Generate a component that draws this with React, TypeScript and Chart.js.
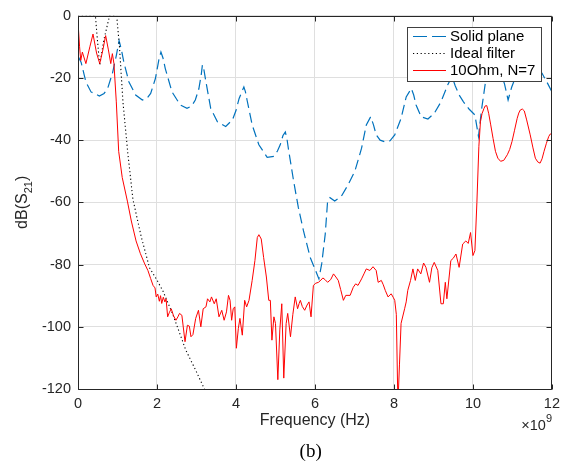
import React, { useEffect, useRef } from "react";
import { Chart, registerables } from "chart.js";

Chart.register(...registerables);

// ---------------- data ----------------
const xTickValues = [0, 2, 4, 6, 8, 10, 12];
const yTickValues = [-120, -100, -80, -60, -40, -20, 0];
const xAxisLabel = "Frequency (Hz)";
const xExponentBase = "×10";
const xExponent = "9";
const yLabelMain = "dB(S";
const yLabelSub = "21";
const yLabelEnd = ")";
const caption = "(b)";
const seriesLabels = ["Solid plane", "Ideal filter", "10Ohm, N=7"];

// frequency in units of 1e9 Hz
const solidPlaneFreq = [
  0.0, 0.08, 0.2, 0.33, 0.54, 0.66, 0.75, 0.87, 0.97, 1.04, 1.1, 1.16, 1.29, 1.46, 1.63, 1.75, 1.84, 1.96,
  2.05, 2.1, 2.15, 2.21, 2.38, 2.59, 2.76, 2.88, 2.97, 3.06, 3.12, 3.15, 3.19, 3.24, 3.36, 3.53, 3.74, 3.91,
  4.0, 4.08, 4.2, 4.24, 4.28, 4.41, 4.58, 4.79, 4.96, 5.05, 5.12, 5.19, 5.25, 5.29, 5.33, 5.46, 5.58, 5.71,
  5.88, 6.05, 6.1, 6.17, 6.26, 6.32, 6.38, 6.5, 6.67, 6.84, 7.01, 7.18, 7.3, 7.41, 7.48, 7.55, 7.65, 7.78,
  7.9, 8.02, 8.18, 8.31, 8.44, 8.5, 8.56, 8.69, 8.86, 9.02, 9.19, 9.36, 9.47, 9.55, 9.65, 9.76, 9.9, 10.05,
  10.14, 10.22, 10.33, 10.42, 10.5, 10.6, 10.7, 10.8, 10.89, 10.98, 11.1, 11.22, 11.32, 11.45, 11.6, 11.75,
  11.8, 11.9, 12.0,
];
const solidPlaneDb = [
  -13, -15, -21.3, -24.5, -25.8, -25, -23.4, -18.6, -12.8, -8, -11, -14.9, -21.3, -25.5, -27.1, -26.5, -25, -20.2,
  -14, -11.7, -13.5, -17, -24.5, -28.7, -29.8, -29, -27.1, -23.5, -19, -15.8, -17.5, -21.3, -29.8, -34.1, -35.6, -33.5,
  -30.5, -26.6, -22.9, -24.5, -27.1, -35.1, -41.5, -45.5, -45.2, -43.5, -41.5, -38.5, -37.4, -39.5, -43, -53.2, -61.7, -69.2,
  -77.7, -83, -84.6, -79.8, -70.2, -59.6, -58.5, -59.6, -58, -54.3, -50, -42.6, -35.1, -32.5, -35, -38.3, -40, -40.6,
  -40.2, -38.3, -33, -26.1, -23.4, -25.5, -28.7, -32.5, -33.2, -31.4, -27.7, -22.3, -19.5, -22.5, -25.5, -27.7, -30, -31.9,
  -38.8, -30, -20.2, -14, -11.5, -14, -18, -22, -27.1, -23, -19, -15, -12.5, -13, -16, -18.5,
  -19.7, -22, -24.5,
];

const idealFilterFreq = [
  0, 0.44, 0.5, 0.55, 0.65, 0.8, 0.98, 1.05, 1.14, 1.26, 1.39, 1.6, 1.81, 2.0, 2.15, 2.4, 2.73, 3.0, 3.2, 3.3,
];
const idealFilterDb = [
  0, 0, -9, -16, -8, 0, 0, -10, -28, -44, -59, -71, -81, -85, -88.5, -96, -107.5, -114.5, -120, -123,
];

const resistorFreq = [
  0.0, 0.04, 0.07, 0.11, 0.2, 0.3, 0.38, 0.47, 0.55, 0.63, 0.7, 0.77, 0.83, 0.87, 0.91, 0.97, 1.03, 1.12, 1.25,
  1.35, 1.47, 1.58, 1.69, 1.77, 1.84, 1.9, 1.95, 1.98, 2.02, 2.06, 2.09, 2.12, 2.16, 2.2, 2.23, 2.27, 2.31, 2.36,
  2.42, 2.48, 2.53, 2.57, 2.63, 2.71, 2.77, 2.82, 2.86, 2.91, 2.98, 3.05, 3.11, 3.17, 3.24, 3.28, 3.34, 3.38,
  3.45, 3.5, 3.57, 3.64, 3.7, 3.76, 3.81, 3.85, 3.89, 3.93, 3.97, 4.01, 4.06, 4.1, 4.16, 4.22, 4.27, 4.33,
  4.41, 4.48, 4.54, 4.58, 4.64, 4.7, 4.77, 4.83, 4.87, 4.91, 4.96, 5.0, 5.06, 5.11, 5.16, 5.21, 5.27, 5.31,
  5.38, 5.44, 5.5, 5.56, 5.6, 5.63, 5.68, 5.74, 5.8, 5.85, 5.9, 5.96, 6.02, 6.09, 6.15, 6.2, 6.26, 6.32, 6.4,
  6.47, 6.53, 6.59, 6.65, 6.72, 6.78, 6.89, 6.97, 7.03, 7.09, 7.18, 7.24, 7.3, 7.39, 7.47, 7.55, 7.6, 7.68,
  7.73, 7.78, 7.85, 7.93, 7.98, 8.02, 8.06, 8.1, 8.14, 8.18, 8.27, 8.31, 8.35, 8.42, 8.48, 8.54, 8.6, 8.68,
  8.75, 8.81, 8.9, 8.96, 9.02, 9.11, 9.19, 9.25, 9.3, 9.34, 9.44, 9.5, 9.57, 9.65, 9.74, 9.82, 9.88, 9.94,
  10.0, 10.05, 10.1, 10.15, 10.19, 10.23, 10.28, 10.31, 10.35, 10.4, 10.45, 10.51, 10.57, 10.63, 10.7, 10.78,
  10.87, 10.93, 10.99, 11.05, 11.12, 11.16, 11.2, 11.25, 11.3, 11.36, 11.45, 11.52, 11.58, 11.64, 11.7, 11.75,
  11.8, 11.86, 11.92, 11.96, 12.0,
];
const resistorDb = [
  -2, -10, -14.4, -11.7, -15.4, -10, -5.9, -12, -15.4, -11, -6.4, -11, -15.4, -12.2, -15.4, -27.7, -43.6, -52, -59.6,
  -66, -72.4, -76.5, -79.8, -81.9, -84.5, -86.7, -87.5, -90.4, -89.5, -91.8, -90, -92.5, -90.5, -92, -91, -96.8, -95.5, -94.2,
  -96.5, -97.9, -96.8, -95.7, -96.3, -104.8, -99.5, -99.8, -103.2, -102.5, -97.3, -94.7, -100, -94.2, -93.6, -91, -92, -90.4,
  -92.6, -91, -96.8, -94.7, -97.9, -95.2, -89.9, -91.5, -97.9, -94.2, -93.6, -106.9, -100.5, -97.3, -102.7, -91.5, -93.6, -91.5,
  -85.1, -78.7, -71.3, -70.4, -71.8, -77.7, -84, -91.5, -91.5, -104.3, -96.8, -98.9, -117, -101, -92.6, -116.5, -99, -95.7,
  -103.2, -96, -90.4, -94.2, -92.5, -91.5, -93.5, -94.7, -93, -92, -96.8, -86.7, -86, -85.7, -85, -84.3, -84.9, -85.7, -84.8,
  -83, -84, -85.1, -88, -91.5, -89.9, -89.9, -87.3, -86.2, -86.7, -84.6, -83, -81.4, -81.9, -80.7, -81.9, -85.7, -85.1,
  -86.5, -88.3, -90.4, -89.4, -90.5, -91.5, -96, -125, -112, -98.9, -94.2, -92, -88.3, -85.1, -81.4, -85.1, -81.4, -83,
  -79.5, -80.9, -85.7, -81, -79.3, -81.9, -92.6, -92.6, -85.7, -91, -78.7, -78, -76.6, -80.9, -73.4, -72.4, -73.2, -69.7,
  -77.1, -75.5, -60, -42, -34.1, -31.5, -29.8, -29, -28.9, -31.5, -35.1, -39.5, -43.6, -45.8, -46.8, -46.5,
  -44.7, -43, -40.4, -37, -33, -31.3, -30.3, -30, -30.6, -33.5, -38.3, -42.5, -45.8, -47, -47.4, -46,
  -43.6, -41, -38.8, -38, -38.1,
];

// ---------------- styling ----------------
const FONT = '"Liberation Sans", Arial, Helvetica, sans-serif';
const SERIF = '"Liberation Serif", "Times New Roman", serif';
const AXIS_COLOR = "rgb(38,38,38)";
const GRID_COLOR = "rgb(223,223,223)";
const BLUE = "rgb(0,114,189)";
const RED = "rgb(255,0,0)";
const BLACK = "rgb(0,0,0)";

const toPoints = (xs: number[], ys: number[]) => xs.map((x, i) => ({ x, y: ys[i] }));

const legendDash: Record<number, number[]> = { 0: [14, 5], 1: [1.2, 2.6], 2: [] };

const decorPlugin = {
  id: "decor",
  afterDraw(chart: any) {
    const { ctx, chartArea: a, scales } = chart;
    const xs = scales.x;
    const ys = scales.y;
    ctx.save();
    ctx.setLineDash([]);

    // axes box
    ctx.strokeStyle = AXIS_COLOR;
    ctx.lineWidth = 1;
    const L = Math.round(a.left) + 0.5;
    const T = Math.round(a.top) + 0.5;
    const R = Math.round(a.right) - 0.5;
    const B = Math.round(a.bottom) + 0.5;
    ctx.beginPath();
    ctx.moveTo(L, T);
    ctx.lineTo(R, T);
    ctx.lineTo(R, B);
    ctx.lineTo(L, B);
    ctx.closePath();
    ctx.stroke();

    // inward tick marks
    const tl = 5;
    ctx.beginPath();
    xTickValues.forEach((v) => {
      const px = Math.round(xs.getPixelForValue(v)) + 0.5;
      ctx.moveTo(px, B);
      ctx.lineTo(px, B - tl);
      ctx.moveTo(px, T);
      ctx.lineTo(px, T + tl);
    });
    yTickValues.forEach((v) => {
      const py = Math.round(ys.getPixelForValue(v)) + 0.5;
      ctx.moveTo(L, py);
      ctx.lineTo(L + tl, py);
      ctx.moveTo(R, py);
      ctx.lineTo(R - tl, py);
    });
    ctx.stroke();

    // legend
    const lw = 134;
    const lh = 54;
    const lx = Math.round(a.right) - 11 - lw;
    const ly = Math.round(a.top) + 11;
    ctx.fillStyle = "#ffffff";
    ctx.fillRect(lx, ly, lw, lh);
    ctx.strokeStyle = "rgb(64,64,64)";
    ctx.strokeRect(lx + 0.5, ly + 0.5, lw, lh);
    ctx.font = `15px ${FONT}`;
    ctx.textBaseline = "middle";
    ctx.textAlign = "left";
    chart.data.datasets.forEach((ds: any, i: number) => {
      const y = ly + 9.5 + i * 17;
      ctx.strokeStyle = ds.borderColor;
      ctx.lineWidth = ds.borderWidth;
      ctx.setLineDash(legendDash[i] || []);
      ctx.beginPath();
      ctx.moveTo(lx + 6, y);
      ctx.lineTo(lx + 39, y);
      ctx.stroke();
      ctx.setLineDash([]);
      ctx.fillStyle = "#000000";
      ctx.fillText(ds.label, lx + 43, y + 0.5);
    });

    // x axis label
    ctx.fillStyle = AXIS_COLOR;
    ctx.font = `16px ${FONT}`;
    ctx.textAlign = "center";
    ctx.textBaseline = "middle";
    ctx.fillText(xAxisLabel, (a.left + a.right) / 2, 421);

    // exponent label
    ctx.textAlign = "left";
    ctx.textBaseline = "alphabetic";
    ctx.font = `11px ${FONT}`;
    const wExp = ctx.measureText(xExponent).width;
    ctx.font = `14.5px ${FONT}`;
    const wBase = ctx.measureText(xExponentBase).width;
    const ex = Math.round(a.right) - wExp - wBase;
    ctx.fillText(xExponentBase, ex, 430);
    ctx.font = `11px ${FONT}`;
    ctx.fillText(xExponent, ex + wBase, 422);

    // y axis label with subscript
    ctx.save();
    ctx.translate(27, (a.top + a.bottom) / 2);
    ctx.rotate(-Math.PI / 2);
    ctx.font = `16px ${FONT}`;
    const w1 = ctx.measureText(yLabelMain).width;
    const w3 = ctx.measureText(yLabelEnd).width;
    ctx.font = `11px ${FONT}`;
    const w2 = ctx.measureText(yLabelSub).width;
    const start = -(w1 + w2 + w3) / 2;
    ctx.font = `16px ${FONT}`;
    ctx.fillText(yLabelMain, start, 0);
    ctx.font = `11px ${FONT}`;
    ctx.fillText(yLabelSub, start + w1, 5);
    ctx.font = `16px ${FONT}`;
    ctx.fillText(yLabelEnd, start + w1 + w2, 0);
    ctx.restore();

    // caption
    ctx.fillStyle = "#000000";
    ctx.font = `19px ${SERIF}`;
    ctx.textAlign = "center";
    ctx.textBaseline = "middle";
    ctx.fillText(caption, 310.7, 452);

    ctx.restore();
  },
};

export default function App() {
  const canvasRef = useRef<HTMLCanvasElement | null>(null);

  useEffect(() => {
    const canvas = canvasRef.current;
    if (!canvas) return;
    const chart = new Chart(canvas, {
      type: "line",
      data: {
        datasets: [
          {
            label: seriesLabels[0],
            data: toPoints(solidPlaneFreq, solidPlaneDb),
            borderColor: BLUE,
            borderWidth: 1.2,
            borderDash: [10, 5],
            pointRadius: 0,
            fill: false,
            tension: 0,
            order: 3,
          },
          {
            label: seriesLabels[1],
            data: toPoints(idealFilterFreq, idealFilterDb),
            borderColor: BLACK,
            borderWidth: 1.1,
            borderDash: [1.2, 2.6],
            pointRadius: 0,
            fill: false,
            tension: 0,
            order: 2,
          },
          {
            label: seriesLabels[2],
            data: toPoints(resistorFreq, resistorDb),
            borderColor: RED,
            borderWidth: 1,
            pointRadius: 0,
            fill: false,
            tension: 0,
            order: 1,
          },
        ],
      },
      options: {
        responsive: false,
        animation: false,
        devicePixelRatio: 1,
        layout: { padding: { left: 0, right: 11, top: 13, bottom: 0 } },
        plugins: {
          legend: { display: false },
          tooltip: { enabled: false },
          title: { display: false },
        },
        scales: {
          x: {
            type: "linear",
            min: 0,
            max: 12,
            afterBuildTicks: (s: any) => {
              s.ticks = xTickValues.map((v) => ({ value: v }));
            },
            afterFit: (s: any) => {
              s.height = 73;
            },
            ticks: {
              font: { family: FONT, size: 14.5 },
              color: AXIS_COLOR,
              padding: 6,
              maxRotation: 0,
              autoSkip: false,
              callback: (v: any) => String(v),
            },
            grid: { color: GRID_COLOR, lineWidth: 1, drawTicks: false },
            border: { display: false },
          },
          y: {
            type: "linear",
            min: -120,
            max: 0,
            afterBuildTicks: (s: any) => {
              s.ticks = yTickValues.map((v) => ({ value: v }));
            },
            afterFit: (s: any) => {
              s.width = 78;
            },
            ticks: {
              font: { family: FONT, size: 14.5 },
              color: AXIS_COLOR,
              padding: 7,
              autoSkip: false,
              callback: (v: any) => String(v),
            },
            grid: { color: GRID_COLOR, lineWidth: 1, drawTicks: false },
            border: { display: false },
          },
        },
      },
      plugins: [decorPlugin],
    } as any);
    return () => chart.destroy();
  }, []);

  return (
    <div style={{ position: "absolute", left: 0, top: 0, width: 566, height: 462, background: "#fff" }}>
      <canvas ref={canvasRef} width={566} height={462} style={{ display: "block" }} />
    </div>
  );
}
